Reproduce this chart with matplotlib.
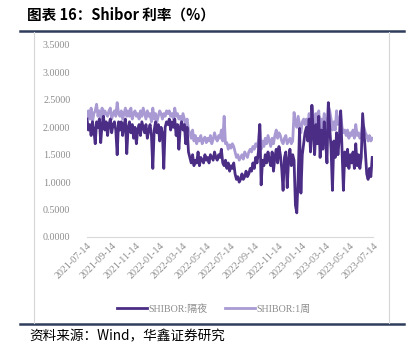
import matplotlib
matplotlib.use("Agg")
import matplotlib.pyplot as plt
from matplotlib.lines import Line2D
import pandas as pd

plt.rcParams['font.family'] = ['Liberation Serif', 'Noto Sans CJK SC', 'DejaVu Sans']

# ---------------------------------------------------------------------------
# Data: readings every 3.5 days from 2021-07-14 (%)
# ---------------------------------------------------------------------------
start_date = "2021-07-14"
n_points = 209

shibor_on = [
    # Jul - Dec 2021
    2.15, 1.95, 2.05, 1.85, 2.10, 1.95, 1.70, 2.10, 2.00, 2.15,
    1.72, 2.05, 2.20, 1.95, 2.10, 1.85, 2.05, 2.15, 1.90, 2.05,
    2.10, 1.95, 1.50, 2.10, 1.95, 2.10, 1.85, 2.05, 2.15, 1.52,
    2.00, 2.10, 1.90, 2.05, 1.80, 2.00, 1.70, 1.95, 2.05, 1.85,
    2.10, 2.00, 1.90, 2.05, 1.80, 1.95, 2.05,
    # Dec 2021 - Mar 2022
    1.85, 1.25, 1.95, 2.10, 1.90, 2.05, 1.75, 2.00, 1.90, 1.25,
    2.00, 2.10, 2.05, 2.15, 1.95, 2.10, 2.00, 2.15, 1.85, 2.05,
    1.60, 2.00, 2.10, 1.95, 2.05, 1.70, 2.00, 1.55,
    # Apr - Jul 2022
    1.45, 1.35, 1.50, 1.30, 1.40, 1.35, 1.55, 1.30, 1.45, 1.40,
    1.35, 1.50, 1.40, 1.45, 1.35, 1.50, 1.45, 1.40, 1.55, 1.45,
    1.40, 1.50, 1.45, 1.60, 1.35, 1.30, 1.40, 1.25, 1.35, 1.20,
    1.30, 1.25, 1.35,
    # Aug - Oct 2022
    1.15, 1.05, 1.10, 1.00, 1.05, 1.15, 1.05, 1.10, 1.20, 1.10,
    1.15, 1.25, 1.20, 1.35, 1.25, 1.45, 1.35, 1.55, 2.05, 0.95,
    1.40, 1.30, 1.50, 1.35, 1.55, 1.40,
    # Nov - Dec 2022
    1.30, 1.55, 1.20, 1.45, 1.60, 1.35, 1.65, 1.50, 1.25, 0.85,
    1.45, 1.55, 0.90, 1.40, 1.60, 1.30, 1.50,
    # year end - Jan 2023
    1.40, 0.58, 0.44, 1.10, 1.98, 0.80, 1.50, 1.70, 1.90,
    # Feb - Mar 2023
    2.00, 1.75, 2.15, 1.55, 2.40, 1.90, 1.50, 2.05, 1.70, 2.20,
    1.45, 1.95, 1.60, 2.10, 1.75, 1.35, 2.45, 2.00, 1.60, 0.85,
    # Apr - Jul 2023
    1.75, 1.45, 1.90, 1.50, 1.80, 2.30, 1.60, 0.85, 1.55, 1.30,
    1.60, 1.25, 1.50, 1.35, 1.55, 1.25, 1.70, 1.30, 1.50, 1.25,
    1.45, 2.25, 1.90, 1.55, 1.15, 1.05, 1.25, 1.10, 1.45,
]

shibor_1w = [
    # Jul - Dec 2021
    2.20, 2.30, 2.15, 2.35, 2.10, 2.25, 2.30, 2.42, 2.20, 2.30,
    2.15, 2.35, 2.20, 2.30, 2.25, 2.20, 2.30, 2.35, 2.15, 2.25,
    2.30, 2.20, 2.45, 2.25, 2.20, 2.30, 2.15, 2.25, 2.35, 2.20,
    2.30, 2.20, 2.35, 2.15, 2.25, 2.30, 2.20, 2.25, 2.15, 2.30,
    2.20, 2.35, 2.25, 2.15, 2.30, 2.20, 2.25,
    # Dec 2021 - Mar 2022
    2.10, 2.35, 2.15, 2.25, 2.10, 2.20, 2.30, 2.25, 2.15, 2.25,
    2.20, 2.30, 2.25, 2.30, 2.20, 2.25, 2.15, 2.35, 2.20, 2.25,
    2.15, 2.20, 2.10, 2.25, 2.15, 2.05, 2.15, 1.95,
    # Apr - Jul 2022
    1.90, 1.80, 1.95, 1.75, 1.85, 1.70, 1.80, 1.75, 1.85, 1.70,
    1.78, 1.82, 1.72, 1.80, 1.75, 1.85, 1.70, 1.78, 1.90, 1.80,
    1.75, 1.85, 1.80, 1.95, 1.75, 2.20, 1.70, 1.72, 1.60, 1.68,
    1.62, 1.70, 1.65,
    # Aug - Oct 2022
    1.55, 1.45, 1.50, 1.40, 1.45, 1.50, 1.42, 1.55, 1.50, 1.45,
    1.55, 1.60, 1.55, 1.65, 1.60, 1.70, 1.65, 1.75, 2.05, 1.60,
    1.75, 1.65, 1.80, 1.70, 1.85, 1.75,
    # Nov - Dec 2022
    1.65, 1.80, 1.70, 1.85, 1.95, 1.80, 1.90, 1.85, 1.75, 1.70,
    1.80, 1.85, 1.70, 1.75, 1.80, 1.70, 1.75,
    # year end - Jan 2023
    2.27, 2.10, 2.00, 2.20, 2.05, 1.90, 2.10, 2.15, 2.05,
    # Feb - Mar 2023
    2.15, 2.00, 2.25, 1.95, 2.40, 2.20, 2.00, 2.25, 2.05, 2.30,
    1.95, 2.15, 2.00, 2.25, 2.05, 1.95, 2.40, 2.30, 2.15, 1.95,
    # Apr - Jul 2023
    2.10, 1.95, 2.30, 2.05, 2.15, 2.25, 2.00, 1.90, 1.95, 1.85,
    1.95, 1.80, 1.90, 1.85, 1.95, 1.80, 2.05, 1.85, 1.90, 1.80,
    1.85, 2.05, 2.00, 1.90, 1.85, 1.75, 1.85, 1.75, 1.80,
]

series_labels = ["SHIBOR:隔夜", "SHIBOR:1周"]
series_colors = ["#4B2D86", "#A99AD4"]

y_ticks = [0.0, 0.5, 1.0, 1.5, 2.0, 2.5, 3.0, 3.5]
tick_dates = ["2021-07-14", "2021-09-14", "2021-11-14", "2022-01-14", "2022-03-14",
              "2022-05-14", "2022-07-14", "2022-09-14", "2022-11-14", "2023-01-14",
              "2023-03-14", "2023-05-14", "2023-07-14"]

dates = pd.date_range(start_date, periods=n_points, freq="84h")

# ---------------------------------------------------------------------------
# Figure
# ---------------------------------------------------------------------------
W, H = 414, 351
fig = plt.figure(figsize=(W / 100, H / 100), dpi=100)


def fx(x):
    return x / W


def fy(y):
    return 1 - y / H


# report frame
navy = "#2E3D5C"
fig.add_artist(Line2D([fx(20), fx(404)], [fy(31), fy(31)], color=navy, lw=1.8))
fig.add_artist(Line2D([fx(20), fx(404)], [fy(324), fy(324)], color=navy, lw=1.8))
fig.add_artist(Line2D([fx(34), fx(34)], [fy(32), fy(323)], color="#D6D6D6", lw=0.8))
fig.add_artist(Line2D([fx(389), fx(389)], [fy(32), fy(323)], color="#D6D6D6", lw=0.8))

cjk = ["Noto Sans CJK SC", "DejaVu Sans"]
fig.text(fx(27), fy(15), "图表 16：Shibor 利率（%）", fontsize=10.5, fontweight="bold",
         va="center", ha="left", family=cjk)
fig.text(fx(29), fy(336), "资料来源：Wind，华鑫证券研究", fontsize=9.8,
         va="center", ha="left", family=cjk)

ax = fig.add_axes([fx(87), fy(237), fx(373) - fx(87), (237 - 45) / H])

ax.plot(dates, shibor_1w, color=series_colors[1], lw=2.0, label=series_labels[1], zorder=2)
ax.plot(dates, shibor_on, color=series_colors[0], lw=2.0, label=series_labels[0], zorder=3)

ax.set_ylim(0, 3.5)
ax.set_yticks(y_ticks)
ax.set_yticklabels([f"{v:.4f}" for v in y_ticks])
ax.set_xlim(pd.Timestamp("2021-07-14"), pd.Timestamp("2023-07-14"))
ax.set_xticks([pd.Timestamp(d) for d in tick_dates])
ax.set_xticklabels(tick_dates, rotation=45, ha="right", va="top", rotation_mode="anchor")

for s in ["top", "right", "left"]:
    ax.spines[s].set_visible(False)
ax.spines["bottom"].set_color("#D9D9D9")
ax.spines["bottom"].set_linewidth(0.8)
ax.tick_params(axis="both", length=0, colors="#8C8C8C", labelsize=7.2)
ax.tick_params(axis="y", pad=12)
ax.tick_params(axis="x", pad=3)

handles = [Line2D([], [], color=series_colors[0], lw=2.0),
           Line2D([], [], color=series_colors[1], lw=2.0)]
leg = fig.legend(handles, series_labels, loc="center",
                 bbox_to_anchor=(fx(214), fy(309)), ncol=2, frameon=False,
                 fontsize=7.2, handlelength=3, handletextpad=0.1, columnspacing=1.8)
for t in leg.get_texts():
    t.set_color("#8C8C8C")

fig.savefig("out.png", dpi=100)
